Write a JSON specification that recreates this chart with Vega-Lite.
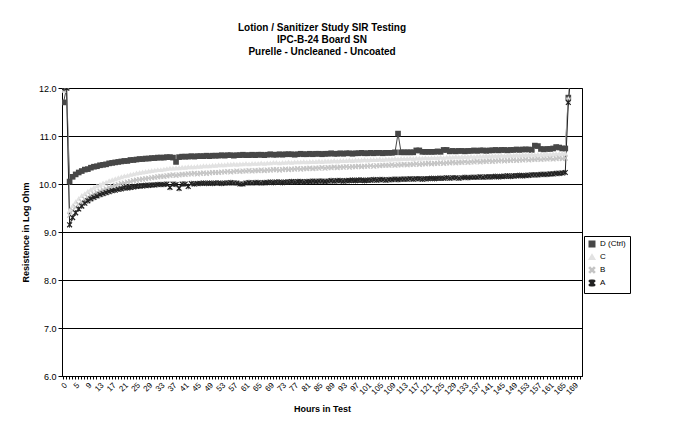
{
  "$schema": "https://vega.github.io/schema/vega-lite/v6.json",
  "width": 520,
  "height": 288,
  "autosize": "none",
  "padding": {"left": 62, "top": 88, "right": 91, "bottom": 54},
  "background": "white",
  "config": {
    "font": "Liberation Sans",
    "view": {"stroke": "black", "strokeWidth": 1},
    "axis": {"labelFont": "Liberation Sans", "titleFont": "Liberation Sans", "labelColor": "black", "titleColor": "black", "domainColor": "black", "tickColor": "black", "gridColor": "black"}
  },
  "title": {
    "text": ["Lotion / Sanitizer Study SIR Testing", "IPC-B-24 Board SN", "Purelle - Uncleaned - Uncoated"],
    "fontSize": 10, "fontWeight": "bold", "lineHeight": 12, "anchor": "middle", "offset": 27, "color": "black", "font": "Liberation Sans"
  },
  "data": {"values": [
    {"h":0,"D (Ctrl)":11.7,"C":11.95,"B":11.95,"A":12},
    {"h":2,"D (Ctrl)":12,"C":12,"B":12,"A":12},
    {"h":3,"D (Ctrl)":10.05,"C":9.45,"B":9.35,"A":9.15},
    {"h":4,"D (Ctrl)":10.15,"C":9.55,"B":9.45,"A":9.3},
    {"h":5,"D (Ctrl)":10.2,"C":9.63,"B":9.52,"A":9.4},
    {"h":6,"D (Ctrl)":10.24,"C":9.7,"B":9.58,"A":9.48},
    {"h":7,"D (Ctrl)":10.27,"C":9.76,"B":9.63,"A":9.54},
    {"h":8,"D (Ctrl)":10.3,"C":9.8,"B":9.68,"A":9.6},
    {"h":9,"D (Ctrl)":10.31,"C":9.85,"B":9.72,"A":9.65},
    {"h":10,"D (Ctrl)":10.34,"C":9.89,"B":9.76,"A":9.69},
    {"h":11,"D (Ctrl)":10.36,"C":9.93,"B":9.79,"A":9.72},
    {"h":12,"D (Ctrl)":10.37,"C":9.96,"B":9.82,"A":9.75},
    {"h":13,"D (Ctrl)":10.39,"C":9.99,"B":9.85,"A":9.78},
    {"h":14,"D (Ctrl)":10.4,"C":10.02,"B":9.88,"A":9.8},
    {"h":15,"D (Ctrl)":10.41,"C":10.04,"B":9.9,"A":9.82},
    {"h":16,"D (Ctrl)":10.43,"C":10.07,"B":9.93,"A":9.84},
    {"h":17,"D (Ctrl)":10.44,"C":10.09,"B":9.95,"A":9.86},
    {"h":18,"D (Ctrl)":10.45,"C":10.11,"B":9.97,"A":9.87},
    {"h":19,"D (Ctrl)":10.46,"C":10.13,"B":9.99,"A":9.89},
    {"h":20,"D (Ctrl)":10.47,"C":10.15,"B":10.01,"A":9.9},
    {"h":21,"D (Ctrl)":10.48,"C":10.17,"B":10.02,"A":9.92},
    {"h":22,"D (Ctrl)":10.48,"C":10.18,"B":10.04,"A":9.92},
    {"h":23,"D (Ctrl)":10.5,"C":10.2,"B":10.05,"A":9.93},
    {"h":24,"D (Ctrl)":10.5,"C":10.21,"B":10.07,"A":9.94},
    {"h":25,"D (Ctrl)":10.51,"C":10.23,"B":10.08,"A":9.95},
    {"h":26,"D (Ctrl)":10.52,"C":10.24,"B":10.09,"A":9.96},
    {"h":27,"D (Ctrl)":10.52,"C":10.25,"B":10.1,"A":9.96},
    {"h":28,"D (Ctrl)":10.53,"C":10.26,"B":10.11,"A":9.97},
    {"h":29,"D (Ctrl)":10.53,"C":10.27,"B":10.12,"A":9.97},
    {"h":30,"D (Ctrl)":10.54,"C":10.28,"B":10.13,"A":9.98},
    {"h":31,"D (Ctrl)":10.54,"C":10.29,"B":10.14,"A":9.98},
    {"h":32,"D (Ctrl)":10.55,"C":10.3,"B":10.15,"A":9.99},
    {"h":33,"D (Ctrl)":10.55,"C":10.3,"B":10.16,"A":9.99},
    {"h":34,"D (Ctrl)":10.55,"C":10.31,"B":10.16,"A":9.99},
    {"h":35,"D (Ctrl)":10.56,"C":10.32,"B":10.17,"A":10},
    {"h":36,"D (Ctrl)":10.56,"C":10.33,"B":10.18,"A":9.93},
    {"h":37,"D (Ctrl)":10.55,"C":10.33,"B":10.19,"A":10},
    {"h":38,"D (Ctrl)":10.46,"C":10.34,"B":10.18,"A":9.99},
    {"h":39,"D (Ctrl)":10.56,"C":10.34,"B":10.19,"A":9.91},
    {"h":40,"D (Ctrl)":10.57,"C":10.35,"B":10.2,"A":10},
    {"h":41,"D (Ctrl)":10.57,"C":10.35,"B":10.2,"A":10},
    {"h":42,"D (Ctrl)":10.57,"C":10.36,"B":10.21,"A":9.95},
    {"h":43,"D (Ctrl)":10.58,"C":10.36,"B":10.21,"A":10.01},
    {"h":44,"D (Ctrl)":10.57,"C":10.36,"B":10.22,"A":10},
    {"h":45,"D (Ctrl)":10.58,"C":10.37,"B":10.21,"A":10.01},
    {"h":46,"D (Ctrl)":10.58,"C":10.37,"B":10.22,"A":10.01},
    {"h":47,"D (Ctrl)":10.58,"C":10.38,"B":10.23,"A":10.02},
    {"h":48,"D (Ctrl)":10.59,"C":10.38,"B":10.22,"A":10.01},
    {"h":49,"D (Ctrl)":10.58,"C":10.38,"B":10.23,"A":10.02},
    {"h":50,"D (Ctrl)":10.59,"C":10.39,"B":10.24,"A":10.01},
    {"h":51,"D (Ctrl)":10.59,"C":10.39,"B":10.24,"A":10.02},
    {"h":52,"D (Ctrl)":10.59,"C":10.4,"B":10.24,"A":10.02},
    {"h":53,"D (Ctrl)":10.6,"C":10.4,"B":10.25,"A":10.01},
    {"h":54,"D (Ctrl)":10.59,"C":10.4,"B":10.25,"A":10.02},
    {"h":55,"D (Ctrl)":10.6,"C":10.41,"B":10.26,"A":10.02},
    {"h":56,"D (Ctrl)":10.6,"C":10.41,"B":10.25,"A":10.03},
    {"h":57,"D (Ctrl)":10.59,"C":10.42,"B":10.26,"A":10.02},
    {"h":58,"D (Ctrl)":10.6,"C":10.41,"B":10.27,"A":10.02},
    {"h":59,"D (Ctrl)":10.6,"C":10.42,"B":10.26,"A":10},
    {"h":60,"D (Ctrl)":10.61,"C":10.42,"B":10.27,"A":10},
    {"h":61,"D (Ctrl)":10.6,"C":10.43,"B":10.27,"A":10.02},
    {"h":62,"D (Ctrl)":10.6,"C":10.42,"B":10.28,"A":10.03},
    {"h":63,"D (Ctrl)":10.61,"C":10.43,"B":10.27,"A":10.02},
    {"h":64,"D (Ctrl)":10.6,"C":10.43,"B":10.28,"A":10.03},
    {"h":65,"D (Ctrl)":10.61,"C":10.43,"B":10.28,"A":10.03},
    {"h":66,"D (Ctrl)":10.61,"C":10.44,"B":10.29,"A":10.02},
    {"h":67,"D (Ctrl)":10.6,"C":10.43,"B":10.28,"A":10.03},
    {"h":68,"D (Ctrl)":10.61,"C":10.44,"B":10.29,"A":10.03},
    {"h":69,"D (Ctrl)":10.62,"C":10.44,"B":10.29,"A":10.04},
    {"h":70,"D (Ctrl)":10.61,"C":10.45,"B":10.3,"A":10.03},
    {"h":71,"D (Ctrl)":10.61,"C":10.45,"B":10.3,"A":10.04},
    {"h":72,"D (Ctrl)":10.62,"C":10.44,"B":10.29,"A":10.04},
    {"h":73,"D (Ctrl)":10.61,"C":10.45,"B":10.3,"A":10.03},
    {"h":74,"D (Ctrl)":10.62,"C":10.45,"B":10.31,"A":10.04},
    {"h":75,"D (Ctrl)":10.62,"C":10.46,"B":10.3,"A":10.04},
    {"h":76,"D (Ctrl)":10.62,"C":10.45,"B":10.31,"A":10.05},
    {"h":77,"D (Ctrl)":10.61,"C":10.46,"B":10.31,"A":10.04},
    {"h":78,"D (Ctrl)":10.62,"C":10.46,"B":10.32,"A":10.05},
    {"h":79,"D (Ctrl)":10.63,"C":10.46,"B":10.31,"A":10.05},
    {"h":80,"D (Ctrl)":10.62,"C":10.47,"B":10.32,"A":10.04},
    {"h":81,"D (Ctrl)":10.62,"C":10.46,"B":10.32,"A":10.05},
    {"h":82,"D (Ctrl)":10.63,"C":10.47,"B":10.33,"A":10.05},
    {"h":83,"D (Ctrl)":10.62,"C":10.47,"B":10.32,"A":10.06},
    {"h":84,"D (Ctrl)":10.63,"C":10.47,"B":10.33,"A":10.05},
    {"h":85,"D (Ctrl)":10.63,"C":10.48,"B":10.33,"A":10.06},
    {"h":86,"D (Ctrl)":10.62,"C":10.47,"B":10.34,"A":10.06},
    {"h":87,"D (Ctrl)":10.63,"C":10.48,"B":10.33,"A":10.05},
    {"h":88,"D (Ctrl)":10.63,"C":10.48,"B":10.34,"A":10.06},
    {"h":89,"D (Ctrl)":10.64,"C":10.48,"B":10.34,"A":10.07},
    {"h":90,"D (Ctrl)":10.63,"C":10.49,"B":10.35,"A":10.06},
    {"h":91,"D (Ctrl)":10.63,"C":10.48,"B":10.34,"A":10.07},
    {"h":92,"D (Ctrl)":10.64,"C":10.49,"B":10.35,"A":10.07},
    {"h":93,"D (Ctrl)":10.63,"C":10.49,"B":10.35,"A":10.06},
    {"h":94,"D (Ctrl)":10.64,"C":10.49,"B":10.36,"A":10.07},
    {"h":95,"D (Ctrl)":10.64,"C":10.5,"B":10.35,"A":10.07},
    {"h":96,"D (Ctrl)":10.63,"C":10.49,"B":10.36,"A":10.08},
    {"h":97,"D (Ctrl)":10.64,"C":10.5,"B":10.36,"A":10.07},
    {"h":98,"D (Ctrl)":10.64,"C":10.5,"B":10.37,"A":10.08},
    {"h":99,"D (Ctrl)":10.65,"C":10.5,"B":10.36,"A":10.08},
    {"h":100,"D (Ctrl)":10.64,"C":10.51,"B":10.37,"A":10.07},
    {"h":101,"D (Ctrl)":10.64,"C":10.5,"B":10.37,"A":10.08},
    {"h":102,"D (Ctrl)":10.65,"C":10.51,"B":10.38,"A":10.08},
    {"h":103,"D (Ctrl)":10.64,"C":10.51,"B":10.37,"A":10.09},
    {"h":104,"D (Ctrl)":10.65,"C":10.51,"B":10.38,"A":10.08},
    {"h":105,"D (Ctrl)":10.65,"C":10.52,"B":10.38,"A":10.09},
    {"h":106,"D (Ctrl)":10.64,"C":10.51,"B":10.39,"A":10.09},
    {"h":107,"D (Ctrl)":10.65,"C":10.52,"B":10.39,"A":10.08},
    {"h":108,"D (Ctrl)":10.65,"C":10.52,"B":10.39,"A":10.09},
    {"h":109,"D (Ctrl)":10.65,"C":10.52,"B":10.4,"A":10.09},
    {"h":110,"D (Ctrl)":10.66,"C":10.53,"B":10.39,"A":10.1},
    {"h":111,"D (Ctrl)":11.05,"C":10.52,"B":10.4,"A":10.09},
    {"h":112,"D (Ctrl)":10.66,"C":10.53,"B":10.4,"A":10.1},
    {"h":113,"D (Ctrl)":10.66,"C":10.53,"B":10.41,"A":10.1},
    {"h":114,"D (Ctrl)":10.66,"C":10.53,"B":10.4,"A":10.1},
    {"h":115,"D (Ctrl)":10.66,"C":10.54,"B":10.41,"A":10.11},
    {"h":116,"D (Ctrl)":10.66,"C":10.53,"B":10.41,"A":10.1},
    {"h":117,"D (Ctrl)":10.7,"C":10.54,"B":10.42,"A":10.11},
    {"h":118,"D (Ctrl)":10.7,"C":10.54,"B":10.41,"A":10.11},
    {"h":119,"D (Ctrl)":10.67,"C":10.54,"B":10.42,"A":10.1},
    {"h":120,"D (Ctrl)":10.67,"C":10.55,"B":10.42,"A":10.11},
    {"h":121,"D (Ctrl)":10.67,"C":10.54,"B":10.43,"A":10.11},
    {"h":122,"D (Ctrl)":10.67,"C":10.55,"B":10.42,"A":10.12},
    {"h":123,"D (Ctrl)":10.67,"C":10.55,"B":10.43,"A":10.11},
    {"h":124,"D (Ctrl)":10.68,"C":10.55,"B":10.43,"A":10.12},
    {"h":125,"D (Ctrl)":10.67,"C":10.56,"B":10.44,"A":10.12},
    {"h":126,"D (Ctrl)":10.71,"C":10.55,"B":10.43,"A":10.12},
    {"h":127,"D (Ctrl)":10.71,"C":10.56,"B":10.44,"A":10.13},
    {"h":128,"D (Ctrl)":10.68,"C":10.56,"B":10.44,"A":10.12},
    {"h":129,"D (Ctrl)":10.69,"C":10.56,"B":10.45,"A":10.13},
    {"h":130,"D (Ctrl)":10.68,"C":10.57,"B":10.44,"A":10.13},
    {"h":131,"D (Ctrl)":10.69,"C":10.56,"B":10.45,"A":10.12},
    {"h":132,"D (Ctrl)":10.69,"C":10.57,"B":10.45,"A":10.13},
    {"h":133,"D (Ctrl)":10.68,"C":10.57,"B":10.46,"A":10.14},
    {"h":134,"D (Ctrl)":10.69,"C":10.57,"B":10.45,"A":10.13},
    {"h":135,"D (Ctrl)":10.69,"C":10.58,"B":10.46,"A":10.14},
    {"h":136,"D (Ctrl)":10.7,"C":10.57,"B":10.46,"A":10.14},
    {"h":137,"D (Ctrl)":10.69,"C":10.58,"B":10.47,"A":10.14},
    {"h":138,"D (Ctrl)":10.7,"C":10.58,"B":10.46,"A":10.15},
    {"h":139,"D (Ctrl)":10.7,"C":10.58,"B":10.47,"A":10.14},
    {"h":140,"D (Ctrl)":10.69,"C":10.59,"B":10.47,"A":10.15},
    {"h":141,"D (Ctrl)":10.7,"C":10.58,"B":10.48,"A":10.15},
    {"h":142,"D (Ctrl)":10.7,"C":10.59,"B":10.47,"A":10.15},
    {"h":143,"D (Ctrl)":10.71,"C":10.59,"B":10.48,"A":10.16},
    {"h":144,"D (Ctrl)":10.7,"C":10.59,"B":10.48,"A":10.15},
    {"h":145,"D (Ctrl)":10.71,"C":10.6,"B":10.49,"A":10.16},
    {"h":146,"D (Ctrl)":10.71,"C":10.59,"B":10.48,"A":10.16},
    {"h":147,"D (Ctrl)":10.7,"C":10.6,"B":10.49,"A":10.17},
    {"h":148,"D (Ctrl)":10.71,"C":10.6,"B":10.49,"A":10.16},
    {"h":149,"D (Ctrl)":10.71,"C":10.6,"B":10.5,"A":10.17},
    {"h":150,"D (Ctrl)":10.72,"C":10.61,"B":10.49,"A":10.17},
    {"h":151,"D (Ctrl)":10.71,"C":10.6,"B":10.5,"A":10.18},
    {"h":152,"D (Ctrl)":10.72,"C":10.61,"B":10.5,"A":10.17},
    {"h":153,"D (Ctrl)":10.72,"C":10.61,"B":10.51,"A":10.18},
    {"h":154,"D (Ctrl)":10.72,"C":10.61,"B":10.5,"A":10.18},
    {"h":155,"D (Ctrl)":10.71,"C":10.62,"B":10.51,"A":10.19},
    {"h":156,"D (Ctrl)":10.8,"C":10.61,"B":10.51,"A":10.19},
    {"h":157,"D (Ctrl)":10.79,"C":10.62,"B":10.52,"A":10.19},
    {"h":158,"D (Ctrl)":10.73,"C":10.62,"B":10.51,"A":10.2},
    {"h":159,"D (Ctrl)":10.72,"C":10.62,"B":10.52,"A":10.2},
    {"h":160,"D (Ctrl)":10.73,"C":10.63,"B":10.52,"A":10.2},
    {"h":161,"D (Ctrl)":10.73,"C":10.62,"B":10.53,"A":10.21},
    {"h":162,"D (Ctrl)":10.74,"C":10.63,"B":10.52,"A":10.21},
    {"h":163,"D (Ctrl)":10.77,"C":10.63,"B":10.53,"A":10.22},
    {"h":164,"D (Ctrl)":10.76,"C":10.63,"B":10.54,"A":10.22},
    {"h":165,"D (Ctrl)":10.74,"C":10.64,"B":10.53,"A":10.23},
    {"h":166,"D (Ctrl)":10.74,"C":10.64,"B":10.54,"A":10.24},
    {"h":167,"D (Ctrl)":11.8,"C":11.78,"B":11.75,"A":11.7},
    {"h":168,"D (Ctrl)":12.4,"C":12.4,"B":12.4,"A":12.4},
    {"h":169,"D (Ctrl)":12.4,"C":12.4,"B":12.4,"A":12.4},
    {"h":170,"D (Ctrl)":12.4,"C":12.4,"B":12.4,"A":12.4},
    {"h":171,"D (Ctrl)":12.4,"C":12.4,"B":12.4,"A":12.4}
  ]},
  "transform": [{"fold": ["D (Ctrl)", "C", "B", "A"], "as": ["Series", "Resistance"]}],
  "encoding": {
    "x": {
      "field": "h", "type": "ordinal",
      "scale": {"type": "band", "paddingInner": 0, "paddingOuter": 0},
      "axis": {
        "title": "Hours in Test", "titleFontSize": 9, "titleFontWeight": "bold", "titlePadding": 8,
        "labelAngle": -45, "labelFontSize": 8, "labelPadding": 2, "labelOverlap": false,
        "labelExpr": "datum.value == 0 || (datum.value - 1) % 4 == 0 ? datum.label : ''",
        "tickSize": 3, "grid": false
      }
    },
    "y": {
      "field": "Resistance", "type": "quantitative",
      "scale": {"domain": [6, 12], "nice": false, "zero": false},
      "axis": {
        "title": "Resistence in Log Ohm", "titleFontSize": 9, "titleFontWeight": "bold", "titlePadding": 8,
        "values": [6, 7, 8, 9, 10, 11, 12], "format": ".1f", "labelFontSize": 9,
        "grid": true, "gridColor": "black", "gridWidth": 1, "tickSize": 4
      }
    }
  },
  "layer": [
    {
      "mark": {"type": "line", "strokeWidth": 1, "clip": true},
      "encoding": {
        "color": {
          "field": "Series", "type": "nominal",
          "scale": {"domain": ["D (Ctrl)", "C", "B", "A"], "range": ["#474747", "#e2e2e2", "#c4c4c4", "#222222"]},
          "legend": {"title": null, "orient": "none", "legendX": 522, "legendY": 148, "strokeColor": "black", "fillColor": "white", "padding": 4, "labelFontSize": 8, "labelFont": "Liberation Sans", "labelColor": "black", "symbolSize": 30, "rowPadding": 1, "labelOffset": 4}
        }
      }
    },
    {
      "mark": {"type": "point", "filled": true, "size": 32, "opacity": 1, "clip": true},
      "encoding": {
        "color": {"field": "Series", "type": "nominal"},
        "shape": {
          "field": "Series", "type": "nominal",
          "scale": {"domain": ["D (Ctrl)", "C", "B", "A"], "range": ["square", "triangle-up", "M-1,-0.7L-0.7,-1L0,-0.3L0.7,-1L1,-0.7L0.3,0L1,0.7L0.7,1L0,0.3L-0.7,1L-1,0.7L-0.3,0Z", "M-1,-0.7L-0.7,-1L0,-0.3L0.7,-1L1,-0.7L0.3,0L1,0.7L0.7,1L0,0.3L-0.7,1L-1,0.7L-0.3,0Z M-0.15,-1L0.15,-1L0.15,1L-0.15,1Z"]},
          "legend": {"title": null, "orient": "none", "legendX": 522, "legendY": 148, "strokeColor": "black", "fillColor": "white", "padding": 4, "labelFontSize": 8, "labelFont": "Liberation Sans", "labelColor": "black", "symbolSize": 30, "rowPadding": 1, "labelOffset": 4}
        }
      }
    }
  ]
}
